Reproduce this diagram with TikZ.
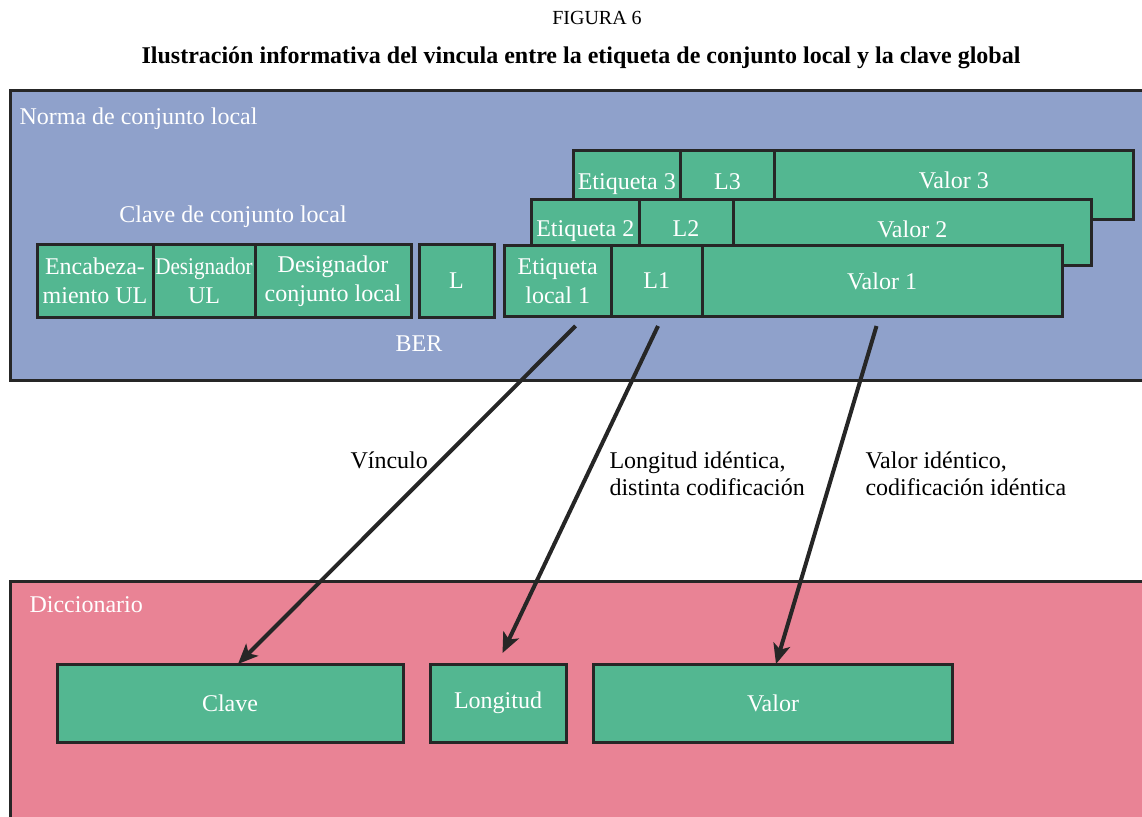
\documentclass[tikz,border=0pt]{standalone}
\usepackage{fontspec}
\setmainfont{Liberation Serif}
\usetikzlibrary{
    arrows.meta,
    calc,
    positioning
}
\definecolor{normablue}{RGB}{143,161,203}
\definecolor{cellgreen}{RGB}{83,183,145}
\definecolor{dictpink}{RGB}{233,131,149}
\definecolor{inkgrey}{RGB}{38,38,38}
\newcommand{\txtbig}{\fontsize{24}{28.8}\selectfont}
\newcommand{\txtlbl}{\fontsize{24}{27}\selectfont}
\newcommand{\txttitle}{\fontsize{20}{24}\selectfont}
\tikzset{
    cell/.style={draw=inkgrey, line width=3pt, fill=cellgreen, text=white, font=\txtbig,
        align=center, inner sep=0pt, outer sep=0pt, anchor=north west},
    region/.style={draw=inkgrey, line width=3pt},
    link/.style={draw=inkgrey, line width=4pt, -{Stealth[length=20pt,width=17pt,inset=5pt]}}
}

\begin{document}
\begin{tikzpicture}[x=1pt, y=-1pt]
                        \useasboundingbox (0, 0) rectangle (1142, 816);
                        \clip (0, 0) rectangle (1142, 816);

                        \node[font=\txttitle] (fig) at (597, 18) {FIGURA 6};
                        \node[font=\txtbig\bfseries] (caption) at (581, 58)
                        {Ilustración informativa del vincula entre la etiqueta de conjunto local y la clave global};

                        % zona BER
                        \draw[region, fill=normablue] (10, 90) rectangle (1160, 380);
                        \node[font=\txtbig, text=white, anchor=west] (norma) at (16, 119) {Norma de conjunto local};
                        \node[font=\txtbig, text=white] (clavelocal) at (233, 217) {Clave de conjunto local};
                        \node[font=\txtbig, text=white] (ber) at (419, 344) {BER};

                        \node[cell, minimum width=116pt, minimum height=73pt] (enc) at (37, 244.5) {Encabeza-\\miento UL};
                        \node[cell, minimum width=102pt, minimum height=73pt, right=0pt of enc] (desul) {\scalebox{0.88}[1]{Designador}\\UL};
                        \node[cell, minimum width=156pt, minimum height=73pt, right=0pt of desul] (descl) {Designador\\conjunto local};
                        \node[cell, minimum width=75pt, minimum height=73pt] (len) at (419, 244.5) {L};

                        % tripletes
                        \node[cell, minimum width=107.5pt, minimum height=69pt] (et3) at (573, 150) {\raisebox{6pt}{Etiqueta 3}};
                        \node[cell, minimum width=94pt, minimum height=69pt, right=0pt of et3] (l3) {\raisebox{6pt}{L3}};
                        \node[cell, minimum width=358.5pt, minimum height=69pt, right=0pt of l3] (v3) {\raisebox{9pt}{Valor 3}};

                        \node[cell, minimum width=107.5pt, minimum height=66pt] (et2) at (531.5, 199) {\raisebox{6pt}{Etiqueta 2}};
                        \node[cell, minimum width=94pt, minimum height=66pt, right=0pt of et2] (l2) {\raisebox{6pt}{L2}};
                        \node[cell, minimum width=358.5pt, minimum height=66pt, right=0pt of l2] (v2) {\raisebox{6pt}{Valor 2}};

                        \node[cell, minimum width=107.4pt, minimum height=71.4pt] (et1) at (504, 245.3) {Etiqueta\\local 1};
                        \node[cell, minimum width=90.6pt, minimum height=71.4pt, right=0pt of et1] (l1) {L1};
                        \node[cell, minimum width=360pt, minimum height=71.4pt, right=0pt of l1] (v1) {Valor 1};

                        % diccionario
                        \draw[region, fill=dictpink] (10, 581) rectangle (1160, 830);
                        \node[font=\txtbig, text=white, anchor=west] (dicc) at (26, 605) {Diccionario};

                        \node[cell, minimum width=346pt, minimum height=78pt] (clave) at (57, 664) {Clave};
                        \node[cell, minimum width=136pt, minimum height=78pt] (long) at (430, 664) {Longitud};
                        \node[cell, minimum width=359pt, minimum height=78pt] (valor) at (593.5, 664) {Valor};

                        % vinculos
                        \coordinate (from1) at (575.5, 326);
                        \coordinate (from2) at (658, 326);
                        \coordinate (from3) at (876.5, 326);

                        \draw
                        (from1) edge[link] ($(clave.north) + (8, 0)$)
                        (from2) edge[link] ($(long.north) + (4.5, -11)$)
                        (from3) edge[link] ($(valor.north) + (3, 0)$);

                        \node[font=\txtlbl, anchor=west] (vinc) at (347, 460) {Vínculo};
                        \node[font=\txtlbl, anchor=west, align=left] (lenlbl) at (606, 473.5) {Longitud idéntica,\\distinta codificación};
                        \node[font=\txtlbl, anchor=west, align=left] (vallbl) at (862, 473.5) {Valor idéntico,\\codificación idéntica};
                    \end{tikzpicture}
\end{document}
